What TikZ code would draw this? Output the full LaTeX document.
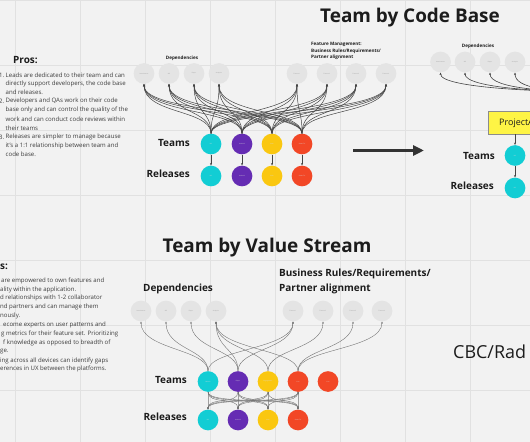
\documentclass[tikz,border=0pt]{standalone}
\usepackage{fontspec}
\setmainfont{Open Sans}
\usetikzlibrary{arrows.meta}
\definecolor{bg}{HTML}{F2F2F2}
\definecolor{gridc}{HTML}{E1E1E1}
\definecolor{depc}{HTML}{E4E4E4}
\definecolor{tcyan}{HTML}{12CDD4}
\definecolor{tpurple}{HTML}{652CB3}
\definecolor{tyellow}{HTML}{FAC710}
\definecolor{tred}{HTML}{F24726}
\definecolor{boxy}{HTML}{FEF445}
\definecolor{ink}{HTML}{1C1C1C}
\definecolor{curvec}{HTML}{444444}
\tikzset{
  bgrid/.style={draw=gridc, line width=0.7bp},
  depnode/.style={circle, fill=depc, minimum size=20.7bp, inner sep=0pt, text=black!40, font=\fontsize{1.5}{1.8}\selectfont},
  teamnode/.style={circle, minimum size=20.7bp, inner sep=0pt, text=white!85!black, font=\fontsize{1.5}{1.8}\selectfont},
  hlabel/.style={font=\bfseries\fontsize{10}{12}\selectfont, text=ink, inner sep=0pt},
  smalllabel/.style={font=\bfseries\fontsize{4.6}{6.6}\selectfont, text=ink, inner sep=0pt},
  titlelabel/.style={font=\bfseries\fontsize{19}{22}\selectfont, text=ink, inner sep=0pt, anchor=base},
  listline/.style={anchor=west, inner sep=0pt, text=ink!85, font=\fontsize{6.1}{7}\selectfont},
  link/.style={draw=curvec, line width=0.5bp, -{Stealth[length=2.4bp,width=2bp]}},
  softlink/.style={draw=curvec!75, line width=0.4bp, -{Stealth[length=2.2bp,width=1.8bp]}},
  bigarrow/.style={draw=ink!90, line width=3bp, -{Triangle[length=11bp,width=10bp]}},
}
\begin{document}
\begin{tikzpicture}[x=1bp,y=-1bp]
\useasboundingbox (0,0) rectangle (530,442);
\clip (0,0) rectangle (530,442);
\fill[bg] (-5,-5) rectangle (535,447);
% grid
\foreach \gx in {15,80,...,535} \draw[bgrid] (\gx,-5) -- (\gx,447);
\foreach \gy in {0,65,...,445} \draw[bgrid] (-5,\gy) -- (535,\gy);

% ---------------- Team by Code Base ----------------
\node[titlelabel] (title1) at (410,23) {Team by Code Base};
\node[hlabel, anchor=base west] (pros1) at (13,64) {Pros:};
\node[listline, anchor=east] (n1) at (4.5,75) {1.};
\node[listline, anchor=east] (n2) at (4.5,101) {2.};
\node[listline, anchor=east] (n3) at (4.5,137) {3.};
\foreach \yy/\txt [count=\i] in {
  75/{Leads are dedicated to their team and can},
  84/{directly support developers, the code base},
  92.5/{and releases.},
  101/{Developers and QAs work on their code},
  110/{base only and can control the quality of the},
  119/{work and can conduct code reviews within},
  128/{their teams},
  137/{Releases are simpler to manage because},
  146/{it's a 1:1 relationship between team and},
  154.5/{code base.}}
  \node[listline] (tl\i) at (5.5,\yy) {\txt};

\node[smalllabel] (deplab1) at (182,58) {Dependencies};
\node[smalllabel, anchor=west, align=left] (featlab1) at (311,51) {Feature Management:\\Business Rules/Requirements/\\Partner alignment};

\node[depnode] (d1) at (144,73.5) {Attachments};
\node[depnode] (d2) at (169,73.5) {API};
\node[depnode] (d3) at (194,73.5) {Player};
\node[depnode] (d4) at (219,73.5) {Analytics};
\node[depnode] (f1) at (297,73.5) {Feature 1};
\node[depnode] (f2) at (327,73.5) {Feature 2};
\node[depnode] (f3) at (356,73.5) {Feature 3};
\node[depnode] (f4) at (386,73.5) {Feature 4};

\node[hlabel, anchor=east] (teamslab1) at (190,143) {Teams};
\node[hlabel, anchor=east] (rellab1) at (190,174) {Releases};
\node[teamnode, fill=tcyan] (t1) at (211,144) {iOS};
\node[teamnode, fill=tpurple] (t2) at (242,144) {Android};
\node[teamnode, fill=tyellow] (t3) at (272,144) {Web};
\node[teamnode, fill=tred] (t4) at (302,144) {Smart TV};
\node[teamnode, fill=tcyan] (r1) at (211,176) {iOS};
\node[teamnode, fill=tpurple] (r2) at (242,176) {Android};
\node[teamnode, fill=tyellow] (r3) at (272,176) {Web};
\node[teamnode, fill=tred] (r4) at (302,176) {Smart TV};

\foreach \t in {t1,t2,t3,t4}
  \foreach \d in {d1,d2,d3,d4,f1,f2,f3,f4}
    \draw[link] (\t.north) to[out=90,in=-90,out distance=24bp,in distance=30bp] (\d.south);
\foreach \k in {1,2,3,4}
  \draw[link] (t\k) -- (r\k);

% big arrow
\coordinate (ba1) at (353,150.5);
\coordinate (ba2) at (424,150.5);
\draw[bigarrow] (ba1) -- (ba2);

% right part
\node[smalllabel] (deplab2) at (478,46) {Dependencies};
\node[depnode] (rd1) at (440.5,62) {Attachments};
\node[depnode] (rd2) at (465,62) {API};
\node[depnode] (rd3) at (490,62) {Player};
\node[depnode] (rd4) at (515,62) {Analytics};
\coordinate (rsrc) at (600,92);
\foreach \d in {rd1,rd2,rd3,rd4}
  \draw[link, line width=0.6bp] (rsrc) to[out=180,in=-90,out distance=50bp,in distance=16bp] (\d.south);
\node[draw=black!45, fill=boxy, line width=0.5bp, minimum width=90bp, minimum height=23bp, anchor=north west, inner sep=0pt] (projbox) at (488,111) {};
\node[anchor=west, inner sep=0pt, font=\fontsize{9}{11}\selectfont, text=ink] (projtxt) at (499,123) {ProjectA};
\node[hlabel, anchor=east] (teamslab2) at (495,155.5) {Teams};
\node[hlabel, anchor=east] (rellab2) at (494,186) {Releases};
\node[teamnode, fill=tcyan] (rt1) at (515,155.5) {iOS};
\node[teamnode, fill=tcyan] (rr1) at (515,188) {iOS};
\draw[link] (projbox.south -| rt1) -- (rt1);
\draw[link] (rt1) -- (rr1);

% ---------------- Team by Value Stream ----------------
\node[titlelabel] (title2) at (267,253) {Team by Value Stream};
\node[hlabel, anchor=base west] (pros2) at (0,269) {s:};
\foreach \xx/\yy/\txt [count=\i] in {
  1/281/{are empowered to own features and},
  0/289.5/{ality within the application.},
  0/298/{d relationships with 1-2 collaborator},
  0/307/{nd partners and can manage them},
  0/316/{nously.},
  3/325/{ecome experts on user patterns and},
  1/334/{g metrics for their feature set. Prioritizing},
  3/343/{f knowledge as opposed to breadth of},
  0/352/{ge.},
  0/360.5/{ing across all devices can identify gaps},
  0/369/{erences in UX between the platforms.}}
  \node[listline] (bl\i) at (\xx,\yy) {\txt};

\node[hlabel, anchor=west] (deplab3) at (143,289) {Dependencies};
\node[hlabel, anchor=west, align=left, font=\bfseries\fontsize{10}{15}\selectfont] (featlab3) at (279,281.5) {Business Rules/Requirements/\\Partner alignment};

\node[depnode] (bd1) at (141,311) {Attachments};
\node[depnode] (bd2) at (166,311) {API};
\node[depnode] (bd3) at (191,311) {Player};
\node[depnode] (bd4) at (216,311) {Analytics};
\node[depnode] (bf1) at (293,311) {Feature 1};
\node[depnode] (bf2) at (323,311) {Feature 2};
\node[depnode] (bf3) at (353,311) {Feature 3};
\node[depnode] (bf4) at (382,311) {Feature 4};

\node[hlabel, anchor=east] (teamslab3) at (187,380) {Teams};
\node[hlabel, anchor=east] (rellab3) at (187,417) {Releases};
\node[teamnode, fill=tcyan] (bt1) at (208,381.5) {Mobile};
\node[teamnode, fill=tpurple] (bt2) at (238,381.5) {Player};
\node[teamnode, fill=tyellow] (bt3) at (268,381.5) {Engagement};
\node[teamnode, fill=tred] (bt4) at (298,381.5) {Live};
\node[teamnode, fill=tred] (bt5) at (328,381.5) {Live};
\node[teamnode, fill=tcyan] (br1) at (208,420) {iOS};
\node[teamnode, fill=tpurple] (br2) at (238,420) {Android};
\node[teamnode, fill=tyellow] (br3) at (268,420) {Web};
\node[teamnode, fill=tred] (br4) at (298,420) {Smart TV};

\foreach \t/\d in {bt1/bd1, bt1/bd2, bt1/bf1, bt2/bd3, bt2/bd4, bt2/bf1,
                   bt3/bd4, bt3/bf2, bt4/bd4, bt4/bf3, bt4/bf4}
  \draw[softlink] (\t.north) to[out=90,in=-90,out distance=22bp,in distance=28bp] (\d.south);
\foreach \i in {1,2,3,4}
  \foreach \j in {1,2,3,4}
    \draw[softlink] (bt\i.south) to[out=-90,in=90,distance=13bp] (br\j.north);

% other board text
\node[anchor=west, inner sep=0pt, font=\fontsize{18}{21}\selectfont, text=ink] (cbc) at (453,352) {CBC/Rad};
\end{tikzpicture}
\end{document}
